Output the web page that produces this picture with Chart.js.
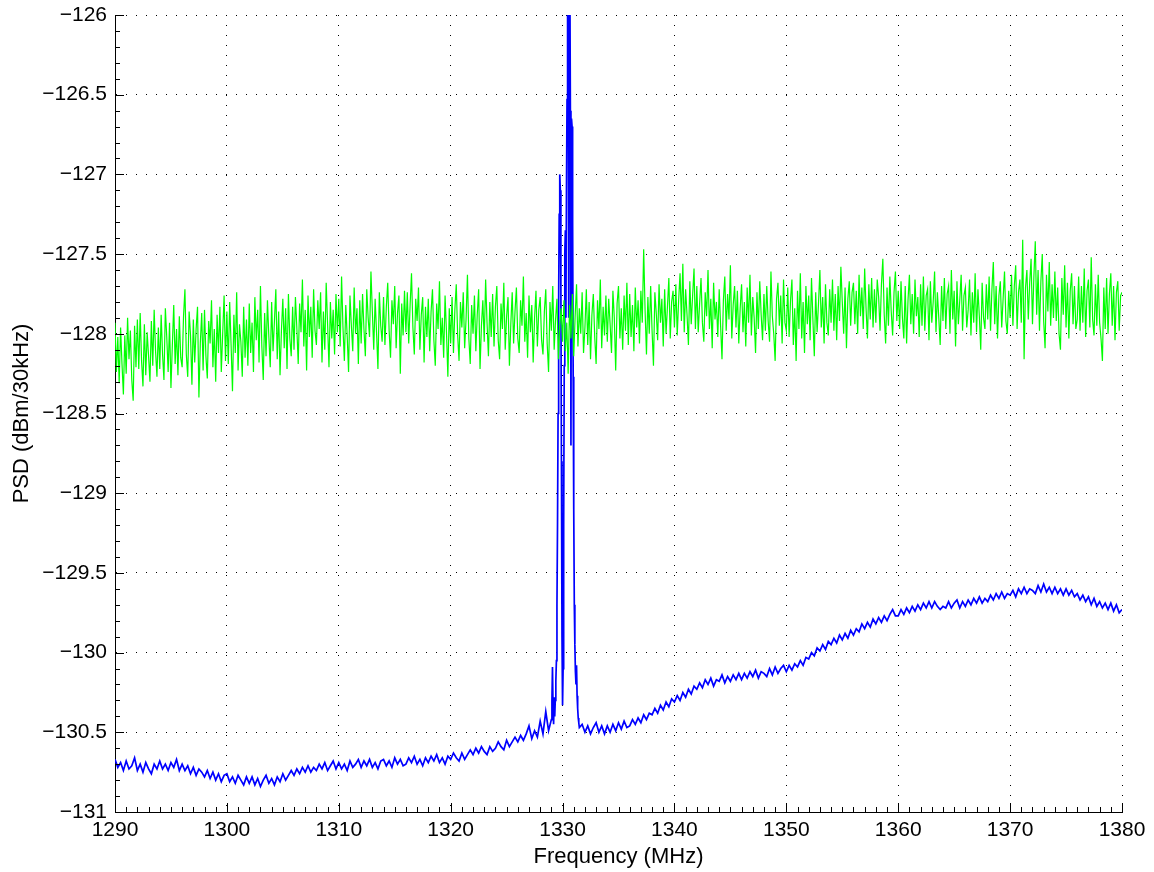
<!DOCTYPE html>
<html>
<head>
<meta charset="utf-8">
<script src="https://cdn.jsdelivr.net/npm/chart.js@4.4.1/dist/chart.umd.min.js"></script>
<style>
  html, body { margin: 0; padding: 0; background: #fff; }
  #wrap { width: 1154px; height: 872px; }
</style>
</head>
<body>
<div id="wrap"><canvas id="psd" width="1154" height="872"></canvas></div>
<script>
// axis ranges / tick labels
const xTicks = [1290, 1300, 1310, 1320, 1330, 1340, 1350, 1360, 1370, 1380];
const yTicks = [-131, -130.5, -130, -129.5, -129, -128.5, -128, -127.5, -127, -126.5, -126];

// green trace: 1290..1380 MHz, one sample per 0.125 MHz (rows = 2 MHz)
const greenStart = 1290;
const greenStep = 0.125;
const greenPsd = [
  -127.93, -128.24, -128.02, -128.31, -127.96, -128.19, -128.38, -128.01, -128.25, -127.90, -128.16, -127.98, -128.29, -128.42, -127.95, -128.21,
  -127.91, -128.22, -127.87, -128.17, -128.33, -127.94, -128.26, -127.99, -128.14, -128.30, -127.92, -128.20, -127.85, -128.11, -128.27, -127.96,
  -128.22, -127.88, -128.13, -128.29, -127.84, -128.02, -128.24, -127.93, -128.34, -128.07, -127.82, -128.19, -127.97, -128.26, -127.89, -128.15,
  -128.21, -127.89, -127.72, -128.13, -128.27, -127.86, -128.01, -128.32, -127.91, -128.18, -127.97, -127.83, -128.40, -128.06, -127.87, -128.23,
  -127.85, -128.14, -128.28, -127.92, -128.06, -127.79, -128.21, -127.97, -128.30, -127.88, -128.12, -127.83, -128.24, -128.00, -127.76, -128.17,
  -127.86, -128.19, -127.80, -128.07, -128.36, -127.88, -128.12, -127.74, -128.23, -127.94, -128.05, -128.27, -127.83, -128.15, -127.91, -128.20,
  -127.81, -128.12, -127.93, -128.24, -127.77, -128.04, -127.85, -128.18, -127.70, -128.08, -128.29, -127.87, -128.14, -127.79, -128.02, -128.21,
  -127.80, -128.11, -127.92, -127.72, -128.16, -127.86, -128.26, -127.98, -127.78, -128.09, -127.84, -128.22, -127.75, -128.03, -128.14, -127.83,
  -128.10, -127.77, -127.96, -128.19, -127.81, -127.99, -127.66, -128.08, -127.85, -128.23, -127.76, -128.02, -127.83, -128.15, -127.72, -127.98,
  -128.07, -127.79, -127.97, -127.74, -128.18, -127.86, -128.10, -127.68, -127.94, -128.21, -127.80, -128.03, -127.85, -128.13, -127.75, -127.99,
  -127.78, -128.08, -127.64, -127.96, -128.17, -127.82, -128.01, -128.24, -127.76, -127.95, -128.11, -127.71, -128.00, -127.84, -128.19, -127.79,
  -128.06, -127.75, -127.97, -128.14, -127.72, -127.90, -128.02, -127.61, -127.86, -128.10, -127.78, -127.99, -128.22, -127.74, -127.95, -128.05,
  -127.77, -128.07, -127.83, -127.68, -127.98, -128.15, -127.79, -127.94, -127.70, -128.09, -127.87, -127.76, -128.25, -127.81, -128.01, -127.73,
  -127.99, -127.74, -128.06, -127.82, -127.62, -127.96, -128.13, -127.78, -127.92, -127.71, -128.10, -127.88, -127.77, -128.18, -127.83, -128.02,
  -127.78, -128.11, -127.86, -127.72, -128.04, -128.20, -127.81, -127.97, -127.67, -128.07, -127.90, -128.15, -127.76, -127.99, -128.27, -127.84,
  -128.06, -127.77, -128.12, -127.85, -127.69, -128.01, -128.17, -127.80, -127.96, -127.74, -128.09, -127.91, -127.63, -128.03, -128.19, -127.82,
  -128.00, -127.76, -128.11, -127.88, -127.72, -128.22, -127.95, -127.79, -128.05, -127.66, -127.93, -128.14, -127.80, -128.02, -127.75, -128.08,
  -127.83, -127.70, -128.04, -128.16, -127.81, -127.97, -127.68, -128.10, -127.89, -127.77, -128.20, -127.94, -127.74, -128.06, -127.86, -127.71,
  -128.03, -128.12, -127.79, -127.95, -127.64, -128.05, -127.87, -128.15, -127.76, -127.99, -127.82, -128.18, -127.90, -127.73, -128.08, -127.85,
  -127.77, -128.04, -128.13, -127.86, -127.72, -128.06, -128.24, -127.80, -127.98, -127.70, -128.10, -127.91, -127.78, -128.16, -127.95, -127.84,
  -128.05, -127.79, -128.11, -127.93, -128.25, -127.82, -128.03, -127.75, -128.14, -127.89, -127.69, -128.08, -127.84, -128.00, -127.74, -128.12,
  -127.96, -127.72, -128.07, -127.80, -128.16, -127.88, -127.75, -128.02, -128.19, -127.79, -127.97, -127.66, -128.09, -127.83, -128.01, -127.76,
  -128.05, -127.78, -127.94, -128.12, -127.73, -127.90, -128.23, -127.81, -127.70, -128.03, -127.84, -128.10, -127.76, -127.98, -127.68, -128.07,
  -127.75, -128.02, -127.82, -128.11, -127.71, -127.96, -127.79, -128.06, -127.73, -127.93, -127.47, -127.85, -128.13, -127.77, -128.00, -127.70,
  -127.98, -128.20, -127.74, -127.87, -128.04, -127.69, -127.93, -127.78, -128.08, -127.72, -128.00, -127.83, -127.65, -128.03, -127.80, -127.73,
  -127.96, -127.69, -128.01, -127.79, -127.62, -127.92, -127.56, -127.99, -127.72, -127.88, -128.07, -127.67, -127.94, -127.76, -127.59, -127.97,
  -127.70, -127.99, -127.81, -127.65, -127.93, -128.05, -127.74, -127.89, -127.60, -127.97, -127.78, -128.09, -127.68, -127.91, -127.80, -128.02,
  -127.72, -127.95, -128.16, -127.79, -127.64, -127.98, -127.75, -127.91, -127.57, -128.03, -127.82, -127.70, -127.96, -127.73, -128.06, -127.84,
  -127.69, -127.99, -127.80, -128.08, -127.71, -127.93, -127.63, -128.01, -127.77, -127.90, -128.12, -127.74, -127.97, -127.67, -127.88, -128.04,
  -127.75, -127.98, -127.70, -127.92, -128.05, -127.61, -127.89, -128.00, -128.17, -127.78, -127.68, -127.95, -127.76, -128.06, -127.66, -127.93,
  -127.98, -127.71, -128.02, -127.79, -127.66, -128.07, -127.84, -128.17, -127.73, -127.97, -127.62, -128.03, -127.80, -128.12, -127.70, -127.94,
  -127.76, -128.04, -127.65, -127.91, -128.14, -127.74, -127.99, -127.81, -127.60, -127.96, -127.77, -128.06, -127.69, -127.93, -128.01, -127.72,
  -127.93, -127.66, -127.98, -127.75, -128.04, -127.70, -127.92, -127.58, -127.80, -128.00, -127.71, -128.09, -127.78, -127.67, -127.95, -127.74,
  -127.68, -127.94, -127.73, -128.00, -127.63, -127.89, -127.71, -127.97, -127.59, -127.84, -128.03, -127.69, -127.91, -127.65, -127.96, -127.72,
  -127.93, -127.66, -127.77, -127.98, -127.69, -127.53, -127.88, -128.06, -127.71, -127.95, -127.64, -127.86, -128.01, -127.74, -127.61, -127.92,
  -127.73, -127.97, -127.67, -127.90, -128.03, -127.70, -128.06, -127.79, -127.63, -127.94, -127.75, -128.00, -127.66, -127.89, -127.77, -128.02,
  -127.69, -127.95, -127.64, -127.98, -127.76, -127.72, -128.04, -127.67, -127.93, -127.80, -127.61, -127.99, -127.74, -127.90, -128.07, -127.70,
  -127.92, -127.65, -127.97, -127.75, -127.70, -128.00, -127.60, -127.91, -127.73, -128.08, -127.67, -127.94, -127.79, -127.63, -127.98, -127.76,
  -127.71, -127.96, -127.85, -127.66, -128.01, -127.74, -127.93, -127.62, -127.99, -127.72, -127.89, -128.10, -127.68, -127.90, -127.97, -127.69,
  -127.91, -127.64, -127.98, -127.72, -127.55, -127.94, -127.70, -128.03, -127.76, -127.67, -127.96, -127.78, -127.61, -127.92, -128.00, -127.73,
  -127.90, -127.63, -127.95, -127.70, -127.57, -127.97, -127.74, -127.66, -127.93, -127.41, -128.16, -127.71, -127.60, -127.91, -127.68, -127.53,
  -127.94, -127.64, -127.42, -127.88, -127.60, -127.98, -127.67, -127.50, -127.92, -128.09, -127.63, -127.86, -127.55, -127.95, -127.69, -127.90,
  -127.61, -127.92, -127.71, -128.00, -128.10, -127.65, -127.88, -127.57, -127.96, -127.68, -128.03, -127.73, -127.62, -127.94, -127.70, -127.97,
  -127.91, -127.64, -127.98, -127.70, -127.93, -127.59, -128.02, -127.73, -127.66, -127.96, -127.52, -127.91, -128.01, -127.69, -127.95, -127.63,
  -127.93, -128.03, -128.17, -127.71, -127.97, -127.65, -128.00, -127.75, -127.62, -127.95, -127.70, -128.04, -127.74, -127.67, -127.98, -127.76,
  -127.74
];

// blue trace, below the carrier: 1290..1328.75 MHz every 0.25 MHz
const blueLowStart = 1290;
const blueStep = 0.25;
const blueLowPsd = [
  -130.67, -130.72, -130.69, -130.74, -130.68, -130.73, -130.71, -130.66,
  -130.74, -130.70, -130.75, -130.69, -130.73, -130.76, -130.70, -130.73,
  -130.68, -130.73, -130.70, -130.74, -130.69, -130.72, -130.67, -130.74,
  -130.70, -130.74, -130.71, -130.76, -130.72, -130.77, -130.73, -130.75,
  -130.78, -130.74, -130.79, -130.75, -130.80, -130.76, -130.81, -130.77,
  -130.76, -130.81, -130.78, -130.82, -130.77, -130.80, -130.83, -130.78,
  -130.82, -130.78, -130.83, -130.79, -130.84, -130.80, -130.77, -130.82,
  -130.79, -130.83, -130.78, -130.81, -130.76, -130.80, -130.77, -130.74,
  -130.77, -130.73, -130.76, -130.72, -130.75, -130.71, -130.75, -130.72,
  -130.74, -130.70, -130.73, -130.69, -130.74, -130.71, -130.68, -130.73,
  -130.69, -130.73, -130.70, -130.74, -130.68, -130.72, -130.70, -130.67,
  -130.72, -130.68, -130.71, -130.67, -130.72, -130.69, -130.73, -130.68,
  -130.67, -130.71, -130.68, -130.72, -130.66, -130.70, -130.67, -130.71,
  -130.70, -130.66, -130.69, -130.65, -130.70, -130.67, -130.71, -130.66,
  -130.69, -130.65, -130.68, -130.64, -130.69, -130.66, -130.70, -130.65,
  -130.67, -130.63, -130.66, -130.68, -130.63, -130.67, -130.64, -130.61,
  -130.64, -130.60, -130.63, -130.59, -130.62, -130.64, -130.59, -130.62,
  -130.60, -130.56, -130.59, -130.61, -130.55, -130.59, -130.56, -130.53,
  -130.56, -130.52, -130.55, -130.51, -130.46, -130.54, -130.49, -130.53,
  -130.43, -130.51, -130.37, -130.49
];

// blue trace around the carrier: 1329.00..1331.50 MHz every 0.05 MHz
const spikeStart = 1329.0;
const spikeStep = 0.05;
const spikePsd = [
  -130.42, -130.30, -130.09, -130.35, -130.45, -130.28, -130.40, -130.30, -130.18, -130.05,
  -129.70, -129.20, -128.50, -127.80, -127.25, -127.00, -127.10, -127.70, -128.80, -129.90,
  -130.33, -130.10, -129.20, -128.20, -127.50, -127.35, -127.90, -127.10, -126.53, -125.90,
  -125.50, -127.90, -125.60, -125.70, -126.60, -128.70, -126.65, -126.70, -127.30, -128.27,
  -129.10, -129.70, -129.95, -130.12, -130.20, -130.08, -130.27, -130.35, -130.41, -130.44,
  -130.47
];

// blue trace, above the carrier: 1331.75..1380 MHz every 0.25 MHz
const blueHighStart = 1331.75;
const blueHighPsd = [
  -130.45,
  -130.50, -130.46, -130.51, -130.47, -130.44, -130.50, -130.46, -130.51,
  -130.46, -130.50, -130.45, -130.49, -130.44, -130.48, -130.43, -130.47,
  -130.46, -130.42, -130.45, -130.41, -130.44, -130.39, -130.42, -130.38,
  -130.39, -130.35, -130.38, -130.33, -130.36, -130.31, -130.34, -130.29,
  -130.31, -130.27, -130.30, -130.25, -130.28, -130.23, -130.26, -130.21,
  -130.23, -130.19, -130.22, -130.17, -130.20, -130.16, -130.21, -130.17,
  -130.18, -130.14, -130.19, -130.15, -130.18, -130.14, -130.17, -130.13,
  -130.17, -130.13, -130.16, -130.12, -130.15, -130.11, -130.16, -130.12,
  -130.13, -130.15, -130.10, -130.14, -130.09, -130.13, -130.10, -130.08,
  -130.12, -130.08, -130.11, -130.07, -130.09, -130.05, -130.08, -130.03,
  -130.04, -130.00, -130.02, -129.97, -129.99, -129.95, -129.98, -129.93,
  -129.95, -129.91, -129.94, -129.89, -129.92, -129.88, -129.91, -129.86,
  -129.89, -129.85, -129.87, -129.82, -129.85, -129.81, -129.84, -129.79,
  -129.82, -129.78, -129.81, -129.77, -129.80, -129.76, -129.73, -129.77,
  -129.77, -129.73, -129.76, -129.72, -129.75, -129.71, -129.74, -129.70,
  -129.73, -129.69, -129.72, -129.68, -129.72, -129.68, -129.71, -129.73,
  -129.71, -129.72, -129.68, -129.72, -129.69, -129.67, -129.72, -129.68,
  -129.71, -129.67, -129.70, -129.66, -129.69, -129.65, -129.69, -129.66,
  -129.68, -129.64, -129.67, -129.63, -129.66, -129.62, -129.66, -129.63,
  -129.64, -129.61, -129.65, -129.60, -129.63, -129.59, -129.63, -129.60,
  -129.61, -129.63, -129.58, -129.62, -129.57, -129.62, -129.59, -129.63,
  -129.59, -129.63, -129.60, -129.64, -129.60, -129.64, -129.61, -129.65,
  -129.63, -129.67, -129.64, -129.68, -129.65, -129.70, -129.66, -129.71,
  -129.68, -129.72, -129.69, -129.73, -129.69, -129.74, -129.70, -129.75,
  -129.73
];

function toPoints(start, step, values) {
  return values.map((v, i) => ({ x: +(start + i * step).toFixed(3), y: v }));
}

const greenPoints = toPoints(greenStart, greenStep, greenPsd);
const bluePoints = toPoints(blueLowStart, blueStep, blueLowPsd)
  .concat(toPoints(spikeStart, spikeStep, spikePsd))
  .concat(toPoints(blueHighStart, blueStep, blueHighPsd));

const FAMILY = "'Liberation Sans', Arial, Helvetica, sans-serif";
const TICK_FONT = { family: FAMILY, size: 21 };
const TITLE_FONT = { family: FAMILY, size: 22 };

// matlab style ticks: drawn inside the axes, majors long, minors short
const inwardTicks = {
  id: 'inwardTicks',
  afterDraw(chart) {
    const { ctx, chartArea: a, scales: { x, y } } = chart;
    ctx.save();
    ctx.strokeStyle = '#000';
    ctx.lineWidth = 1;
    ctx.beginPath();
    for (let f = x.min; f <= x.max + 1e-9; f += 1) {
      const px = Math.round(x.getPixelForValue(f)) + 0.5;
      const len = xTicks.includes(Math.round(f)) ? 9 : 5;
      ctx.moveTo(px, a.bottom);
      ctx.lineTo(px, a.bottom - len);
    }
    for (let k = 0; k <= 50; k++) {
      const v = y.min + k * 0.1;
      const py = Math.round(y.getPixelForValue(v)) + 0.5;
      const len = k % 5 === 0 ? 9 : 5;
      ctx.moveTo(a.left, py);
      ctx.lineTo(a.left + len, py);
    }
    ctx.stroke();
    ctx.restore();
  }
};

new Chart(document.getElementById('psd'), {
  type: 'line',
  data: {
    datasets: [
      { label: 'green', data: greenPoints, borderColor: '#00ff00', borderWidth: 1.2, pointRadius: 0, tension: 0, fill: false },
      { label: 'blue', data: bluePoints, borderColor: '#0000ff', borderWidth: 1.7, pointRadius: 0, tension: 0, fill: false }
    ]
  },
  options: {
    responsive: false,
    animation: false,
    devicePixelRatio: 1,
    parsing: false,
    layout: { padding: { top: 15, right: 32, left: 0, bottom: 0 } },
    plugins: { legend: { display: false }, tooltip: { enabled: false } },
    scales: {
      x: {
        type: 'linear',
        min: xTicks[0],
        max: xTicks[xTicks.length - 1],
        afterBuildTicks: s => { s.ticks = xTicks.map(v => ({ value: v })); },
        afterFit: s => { s.height = 60; s.paddingLeft = 0; s.paddingRight = 0; },
        ticks: { color: '#000', font: TICK_FONT, padding: 6, maxRotation: 0, autoSkip: false, callback: v => String(v) },
        grid: { color: '#000', lineWidth: 1, drawTicks: false },
        border: { display: true, color: '#000', width: 1, dash: [1, 9] },
        title: { display: true, text: 'Frequency (MHz)', color: '#000', font: TITLE_FONT, padding: { top: 0, bottom: 2 } }
      },
      y: {
        min: yTicks[0],
        max: yTicks[yTicks.length - 1],
        afterBuildTicks: s => { s.ticks = yTicks.map(v => ({ value: v })); },
        afterFit: s => { s.width = 115; s.paddingTop = 0; s.paddingBottom = 0; },
        ticks: { color: '#000', font: TICK_FONT, padding: 8, autoSkip: false, callback: v => String(v).replace('-', '\u2212') },
        grid: { color: '#000', lineWidth: 1, drawTicks: false },
        border: { display: true, color: '#000', width: 1, dash: [1, 9] },
        title: { display: true, text: 'PSD (dBm/30kHz)', color: '#000', font: TITLE_FONT, padding: { top: 9, bottom: 0 } }
      }
    }
  },
  plugins: [inwardTicks]
});
</script>
</body>
</html>
